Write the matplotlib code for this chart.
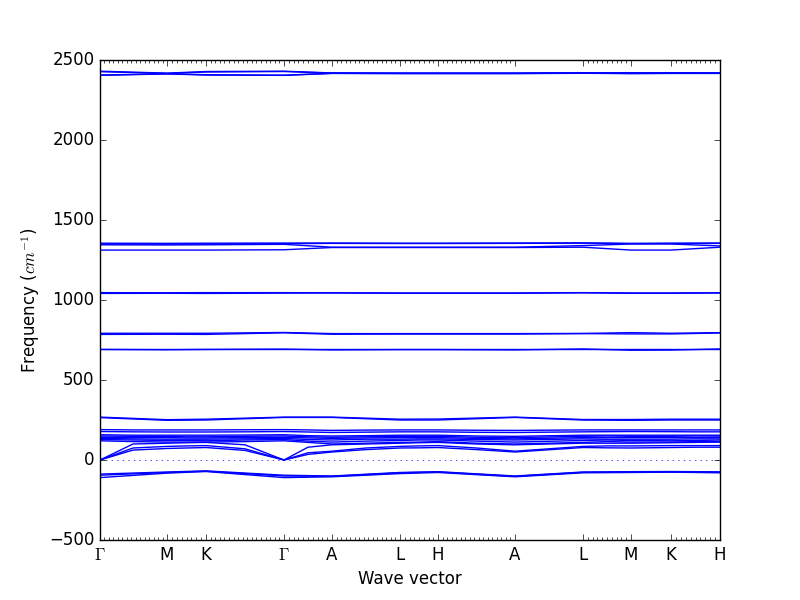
import matplotlib
matplotlib.use('Agg')
import matplotlib.pyplot as plt
import numpy as np

plt.style.use('classic')

# high-symmetry path
labels = ['$\\Gamma$', 'M', 'K', '$\\Gamma$', 'A', 'L', 'H', 'A', 'L', 'M', 'K', 'H']
hs_x = [0.0, 0.67, 1.06, 1.84, 2.32, 3.00, 3.38, 4.15, 4.83, 5.31, 5.71, 6.20]
# q-points per segment (0 = jump in the path, no points)
seg_pts = [15, 8, 17, 10, 15, 8, 17, 0, 10, 0, 10]

# finer knots for the low-frequency bands (hs points + segment midpoints)
low_x = [0.0, 0.33, 0.67, 0.865, 1.06, 1.45, 1.84, 2.08, 2.32, 2.66, 3.00,
         3.19, 3.38, 3.765, 4.15, 4.83, 5.07, 5.31, 5.71, 5.955, 6.20]

# bands read at the high-symmetry points (cm^-1)
bands_2400 = [
    [2430, 2418, 2428, 2430, 2419, 2418, 2418, 2418, 2420, 2420, 2420, 2419],
    [2427, 2416, 2425, 2428, 2418, 2417, 2417, 2417, 2419, 2418, 2419, 2418],
    [2406, 2414, 2408, 2405, 2417, 2416, 2416, 2416, 2418, 2416, 2417, 2417],
    [2404, 2413, 2406, 2404, 2416, 2415, 2415, 2415, 2417, 2415, 2416, 2416],
]
bands_1330 = [
    [1355, 1354, 1355, 1356, 1356, 1355, 1355, 1356, 1357, 1354, 1355, 1356],
    [1350, 1349, 1350, 1352, 1354, 1353, 1353, 1354, 1355, 1352, 1353, 1354],
    [1345, 1344, 1345, 1348, 1330, 1330, 1330, 1330, 1340, 1350, 1350, 1338],
    [1312, 1312, 1312, 1314, 1328, 1328, 1328, 1328, 1330, 1312, 1312, 1330],
]
bands_1040 = [
    [1046, 1045, 1046, 1046, 1045, 1044, 1044, 1044, 1046, 1044, 1044, 1045],
    [1041, 1042, 1041, 1043, 1044, 1042, 1042, 1042, 1045, 1042, 1042, 1044],
]
bands_790 = [
    [792, 792, 792, 797, 790, 790, 790, 790, 791, 796, 792, 796],
    [785, 786, 785, 795, 786, 787, 787, 787, 790, 788, 788, 794],
]
bands_690 = [
    [695, 695, 695, 695, 695, 695, 695, 695, 695, 695, 695, 695],
    [691, 689, 691, 693, 688, 690, 690, 688, 694, 686, 687, 694],
]
bands_260 = [
    [268, 252, 255, 268, 268, 255, 256, 268, 253, 253, 255, 255],
    [265, 248, 250, 266, 266, 250, 250, 266, 250, 248, 250, 250],
]
bands_neg = [
    [-88, -75, -68, -95, -100, -78, -73, -100, -75, -73, -72, -74],
    [-110, -82, -72, -110, -105, -85, -78, -105, -80, -78, -76, -80],
    [-95, -78, -70, -100, -102, -80, -75, -102, -77, -75, -74, -77],
]

# low-frequency bands read at low_x knots
bands_low = [
    [0, 62, 72, 75, 78, 60, 0, 35, 50, 65, 75, 76, 78, 65, 50, 78, 76, 75, 78, 80, 80],
    [0, 75, 85, 88, 90, 70, 0, 45, 55, 75, 85, 88, 90, 75, 55, 85, 88, 88, 90, 90, 90],
    [0, 100, 105, 108, 110, 95, 0, 80, 95, 100, 105, 108, 110, 100, 95, 105, 105, 105, 108, 110, 112],
    [120, 115, 112, 112, 112, 115, 120, 110, 100, 105, 110, 112, 115, 105, 100, 110, 115, 112, 112, 115, 115],
    [128, 125, 122, 122, 120, 125, 128, 118, 112, 118, 122, 125, 125, 118, 112, 122, 125, 122, 120, 122, 125],
    [135, 132, 130, 130, 130, 132, 135, 128, 125, 130, 130, 132, 132, 128, 125, 132, 130, 130, 130, 132, 132],
    [142, 140, 140, 138, 138, 140, 142, 138, 135, 138, 140, 140, 140, 135, 132, 140, 140, 140, 140, 140, 142],
    [150, 148, 147, 145, 145, 148, 150, 145, 142, 145, 148, 148, 148, 142, 140, 148, 150, 148, 148, 150, 150],
    [158, 155, 155, 155, 155, 156, 158, 152, 150, 152, 155, 155, 155, 150, 148, 155, 155, 155, 155, 155, 155],
    [178, 176, 175, 175, 175, 176, 178, 175, 172, 174, 176, 176, 176, 173, 172, 176, 177, 178, 177, 176, 176],
    [190, 188, 188, 188, 188, 189, 190, 188, 185, 187, 188, 188, 188, 186, 185, 188, 188, 188, 188, 188, 188],
]

fig = plt.figure(figsize=(8, 6), dpi=100)
ax = fig.add_subplot(111)

for group in [bands_2400, bands_1330, bands_1040, bands_790, bands_690, bands_260, bands_neg]:
    for b in group:
        ax.plot(hs_x, b, 'b-', lw=1)
for b in bands_low:
    ax.plot(low_x, b, 'b-', lw=1)

ax.axhline(0, color='b', ls=':', lw=0.5)

# minor ticks at every q-point along the path
qticks = []
for i, n in enumerate(seg_pts):
    if n > 0:
        qticks.extend(np.linspace(hs_x[i], hs_x[i + 1], n + 1))
ax.set_xticks(qticks, minor=True)
ax.set_xticks(hs_x)
ax.set_xticklabels(labels)

ax.set_xlim(0, 6.2)
ax.set_ylim(-500, 2500)
ax.set_xlabel('Wave vector')
ax.set_ylabel('Frequency ($cm^{-1}$)')

fig.savefig('out.png', dpi=100)
